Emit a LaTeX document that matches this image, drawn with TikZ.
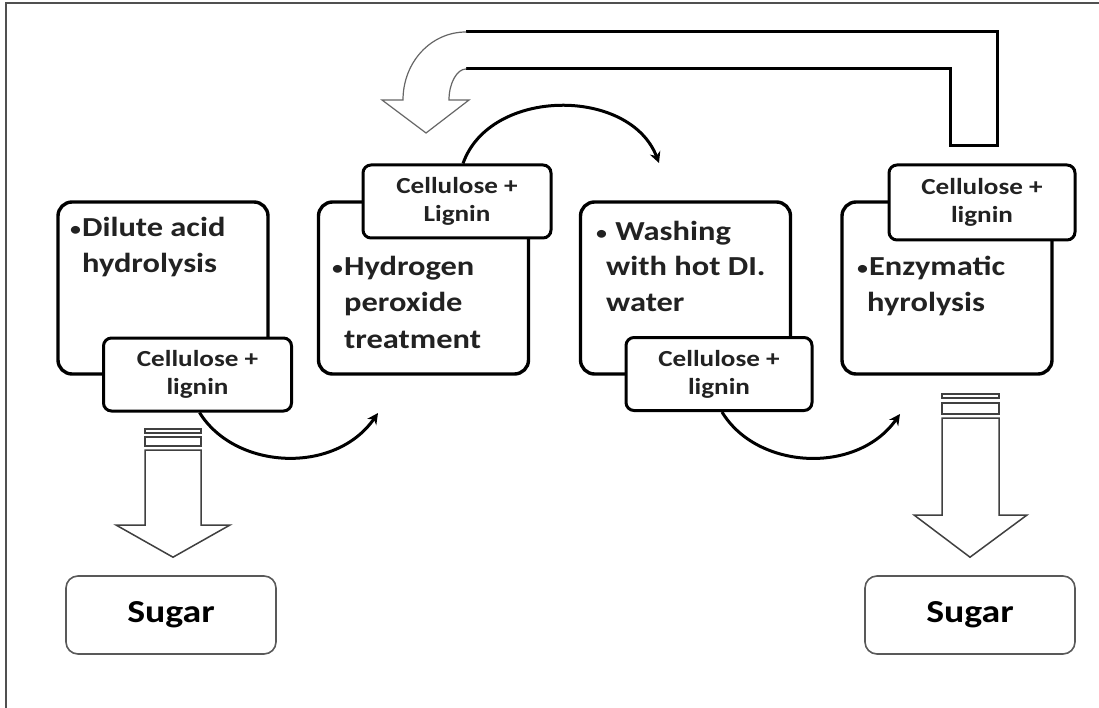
\documentclass[tikz,border=0pt]{standalone}
\usepackage{fontspec}
\setmainfont{Carlito}[FakeStretch=1.18]
\usetikzlibrary{arrows.meta,calc}
\definecolor{txt}{HTML}{222222}
\definecolor{framecol}{HTML}{505050}
\newcommand{\bul}{{\mdseries\fontsize{22}{33}\selectfont •}}
\tikzset{
  bigbox/.style={draw=black, line width=3.4pt, rounded corners=14pt, fill=white,
    minimum width=210pt, minimum height=172pt, inner sep=0pt},
  smallbox/.style={draw=black, line width=3pt, rounded corners=8pt, fill=white,
    minimum width=188pt, minimum height=73pt, inner sep=0pt, align=center,
    font=\fontsize{23}{28}\selectfont\bfseries, text=txt},
  sugarbox/.style={draw=black!65, line width=1.6pt, rounded corners=12pt, fill=white,
    minimum width=210pt, minimum height=78pt, inner sep=0pt,
    font=\fontsize{32}{38}\selectfont\bfseries, text=black},
  boxtext/.style={anchor=base west, inner sep=0pt,
    font=\fontsize{27.5}{33}\selectfont\bfseries, text=txt},
  flow/.style={line width=3pt, -{Stealth[length=11pt,width=11pt]}},
  blockarrow/.style={draw=black!75, line width=1.5pt, fill=white, line join=miter},
  returnline/.style={line width=3pt, line join=miter},
  returnhead/.style={draw=black!60, line width=1.2pt, fill=white, line join=miter}
}
\begin{document}
\begin{tikzpicture}[x=1pt,y=-1pt]
\useasboundingbox (0,0) rectangle (1099,708);
\fill[white] (0,0) rectangle (1099,708);
% outer frame
\draw[framecol, line width=1.8pt] (6,708) -- (6,3) -- (1099,3);

% big process boxes
\node[bigbox] (b1) at (163,288) {};
\node[bigbox] (b2) at (423.5,288) {};
\node[bigbox] (b3) at (685.5,288) {};
\node[bigbox] (b4) at (947,288) {};

% texts in the big boxes
\node[boxtext] (t1a) at (69,237) {\bul Dilute acid};
\node[boxtext] (t1b) at (82,273) {hydrolysis};
\node[boxtext] (t2a) at (331,276) {\bul Hydrogen};
\node[boxtext] (t2b) at (344,312) {peroxide};
\node[boxtext] (t2c) at (344,348) {treatment};
\node[boxtext] (t3a) at (595,241) {\bul\ Washing};
\node[boxtext] (t3b) at (606,276) {with hot DI.};
\node[boxtext] (t3c) at (606,311) {water};
\node[boxtext] (t4a) at (856,276) {\bul Enzymatic};
\node[boxtext] (t4b) at (867,311) {hyrolysis};

% small product boxes
\node[smallbox] (s1) at (197.5,374.5) {Cellulose +\\lignin};
\node[smallbox] (s2) at (457,201.5) {Cellulose +\\Lignin};
\node[smallbox, minimum width=186pt] (s3) at (719,374) {Cellulose +\\lignin};
\node[smallbox, minimum width=186pt, minimum height=75pt] (s4) at (982,202.5) {Cellulose +\\lignin};

% sugar boxes
\node[sugarbox] (sugL) at (171,615) {Sugar};
\node[sugarbox] (sugR) at (970,615) {Sugar};

% curved flow arrows
\coordinate (e1) at (378,413);
\coordinate (e2) at (659,163);
\coordinate (e3) at (900,414);
\draw[flow] ($(s1.south)+(2,0)$) .. controls (235,470) and (335,475) .. (e1);
\draw[flow] ($(s2.north)+(6,0)$) .. controls (490,87) and (630,87) .. (e2);
\draw[flow] ($(s3.south)+(3,0)$) .. controls (757,470) and (857,475) .. (e3);

% return block arrow from enzymatic step
\draw[returnline] (466,32) -- (997,32) -- (997,146) -- (950,146) -- (950,69) -- (466,69);
\draw[returnhead] (466,32) .. controls (431,32) and (403,62) .. (403,100)
  -- (382,100) -- (426,133) -- (469,100) -- (449,100)
  .. controls (449,83) and (457,69) .. (466,69);

% left striped down arrow to sugar
\draw[blockarrow] (145,429) rectangle (201,433);
\draw[blockarrow] (145,437) rectangle (201,446);
\draw[blockarrow] (145,450) -- (145,525) -- (116,525) -- ($(sugL.north)+(2,-18)$)
  -- (230,525) -- (201,525) -- (201,450) -- cycle;

% right striped down arrow to sugar
\draw[blockarrow] (942,394) rectangle (999,398);
\draw[blockarrow] (942,403) rectangle (999,414);
\draw[blockarrow] (942,418) -- (942,515) -- (914,515) -- ($(sugR.north)+(0,-18)$)
  -- (1027,515) -- (999,515) -- (999,418) -- cycle;
\end{tikzpicture}
\end{document}
